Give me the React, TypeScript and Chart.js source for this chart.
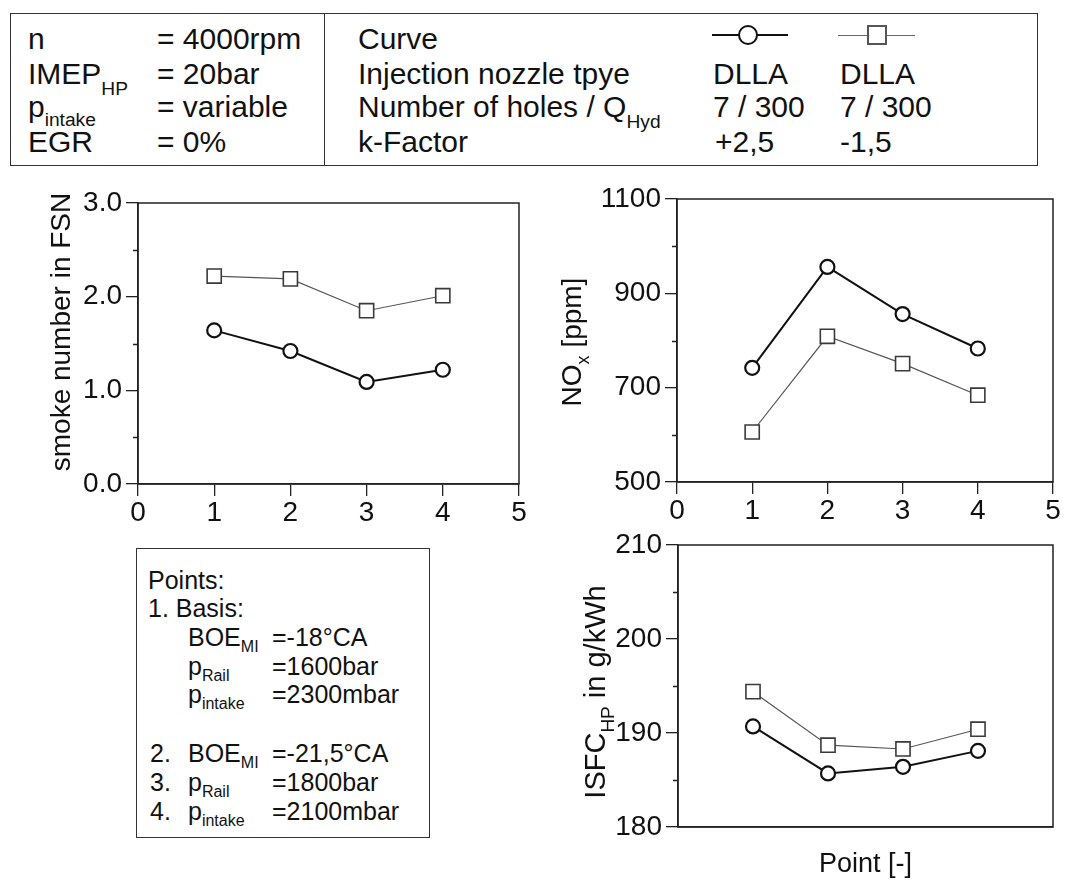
import React, { useEffect, useRef } from 'react';
import { Chart, registerables } from 'chart.js';

Chart.register(...registerables);

const FONT = '"Liberation Sans", Arial, Helvetica, sans-serif';

// ---- data ----
const pointNumbers = [1, 2, 3, 4];
const xTickValues = [0, 1, 2, 3, 4, 5];

const smokeRound = [1.64, 1.42, 1.09, 1.22];
const smokeSquare = [2.22, 2.19, 1.85, 2.01];
const smokeTicks = [0, 1, 2, 3];
const smokeMinor = [0.5, 1.5, 2.5];

const noxRound = [742, 956, 856, 783];
const noxSquare = [606, 809, 751, 684];
const noxTicks = [500, 700, 900, 1100];
const noxMinor = [600, 800, 1000];

const isfcRound = [190.7, 185.7, 186.4, 188.1];
const isfcSquare = [194.4, 188.7, 188.3, 190.4];
const isfcTicks = [180, 190, 200, 210];
const isfcMinor = [185, 195, 205];

const seriesLabels = ['DLLA 7/300 k=+2,5', 'DLLA 7/300 k=-1,5'];

type Part = { text: string; sub?: boolean };

interface Cfg {
  round: number[];
  square: number[];
  yMin: number;
  yMax: number;
  yTicks: number[];
  yMinor: number[];
  yDecimals: number;
  showX: boolean;
  xTitle?: string;
  pad: { top: number; right: number; bottom: number; left: number };
  yWidth: number;
  xHeight: number;
  title: Part[];
  titleX: number;
  titleY: number;
  titleSize: number;
}

function buildConfig(p: Cfg): any {
  const framePlugin = {
    id: 'frame',
    beforeDatasetsDraw(chart: any) {
      const { ctx, chartArea: a } = chart;
      ctx.save();
      ctx.strokeStyle = '#222';
      ctx.lineWidth = 1.5;
      ctx.strokeRect(a.left, a.top, a.right - a.left, a.bottom - a.top);
      const ys = chart.scales.y;
      ctx.lineWidth = 1.3;
      ctx.beginPath();
      for (const v of p.yMinor) {
        const py = Math.round(ys.getPixelForValue(v)) + 0.5;
        ctx.moveTo(a.left, py);
        ctx.lineTo(a.left - 5, py);
      }
      ctx.stroke();
      ctx.restore();
    },
  };
  const titlePlugin = {
    id: 'yTitleSub',
    afterDraw(chart: any) {
      const { ctx } = chart;
      const size = p.titleSize;
      const subSize = Math.round(size * 0.64);
      ctx.save();
      ctx.fillStyle = '#111';
      ctx.textBaseline = 'alphabetic';
      ctx.textAlign = 'left';
      let total = 0;
      const widths: number[] = [];
      for (const part of p.title) {
        ctx.font = `${part.sub ? subSize : size}px ${FONT}`;
        const w = ctx.measureText(part.text).width;
        widths.push(w);
        total += w;
      }
      ctx.translate(p.titleX, p.titleY);
      ctx.rotate(-Math.PI / 2);
      let pos = -total / 2;
      const base = size * 0.36;
      p.title.forEach((part, i) => {
        ctx.font = `${part.sub ? subSize : size}px ${FONT}`;
        ctx.fillText(part.text, pos, base + (part.sub ? size * 0.28 : 0));
        pos += widths[i];
      });
      ctx.restore();
    },
  };

  return {
    type: 'line',
    data: {
      datasets: [
        {
          label: seriesLabels[0],
          data: pointNumbers.map((x, i) => ({ x, y: p.round[i] })),
          borderColor: '#111',
          borderWidth: 2,
          pointStyle: 'circle',
          pointRadius: 7,
          pointBorderWidth: 2.2,
          pointBorderColor: '#111',
          pointBackgroundColor: '#fff',
          tension: 0,
        },
        {
          label: seriesLabels[1],
          data: pointNumbers.map((x, i) => ({ x, y: p.square[i] })),
          borderColor: '#555',
          borderWidth: 1.2,
          pointStyle: 'rect',
          pointRadius: 10,
          pointBorderWidth: 1.6,
          pointBorderColor: '#3a3a3a',
          pointBackgroundColor: '#fff',
          tension: 0,
        },
      ],
    },
    options: {
      animation: false,
      responsive: false,
      maintainAspectRatio: false,
      devicePixelRatio: 1,
      events: [],
      layout: { padding: p.pad },
      plugins: { legend: { display: false }, tooltip: { enabled: false } },
      scales: {
        x: {
          type: 'linear',
          min: 0,
          max: 5,
          afterBuildTicks: (s: any) => {
            s.ticks = xTickValues.map((v) => ({ value: v }));
          },
          ticks: {
            display: p.showX,
            color: '#111',
            font: { family: FONT, size: 28 },
            padding: 0,
            maxRotation: 0,
            autoSkip: false,
            callback: (v: any) => String(v),
          },
          grid: {
            display: true,
            drawOnChartArea: false,
            drawTicks: p.showX,
            tickLength: 12,
            color: '#222',
            lineWidth: 1.3,
          },
          border: { display: true, color: '#222', width: 1.5 },
          title: p.xTitle
            ? {
                display: true,
                text: p.xTitle,
                color: '#111',
                font: { family: FONT, size: 27 },
                padding: { top: 0, bottom: 0 },
              }
            : { display: false },
          afterFit: (s: any) => {
            s.height = p.xHeight;
          },
        },
        y: {
          type: 'linear',
          min: p.yMin,
          max: p.yMax,
          afterBuildTicks: (s: any) => {
            s.ticks = p.yTicks.map((v) => ({ value: v }));
          },
          ticks: {
            color: '#111',
            font: { family: FONT, size: 28 },
            padding: 4,
            autoSkip: false,
            callback: (v: any) => Number(v).toFixed(p.yDecimals),
          },
          grid: {
            display: true,
            drawOnChartArea: false,
            drawTicks: true,
            tickLength: 12,
            color: '#222',
            lineWidth: 1.3,
          },
          border: { display: true, color: '#222', width: 1.5 },
          afterFit: (s: any) => {
            s.width = p.yWidth;
          },
        },
      },
    },
    plugins: [framePlugin, titlePlugin],
  };
}

function ChartCanvas(props: { left: number; top: number; width: number; height: number; cfg: Cfg }) {
  const ref = useRef<HTMLCanvasElement>(null);
  useEffect(() => {
    if (!ref.current) return;
    const chart = new Chart(ref.current, buildConfig(props.cfg));
    return () => chart.destroy();
  }, []);
  return (
    <canvas
      ref={ref}
      width={props.width}
      height={props.height}
      style={{ position: 'absolute', left: props.left, top: props.top, width: props.width, height: props.height }}
    />
  );
}

function Sub({ children, drop = -0.55 }: { children: React.ReactNode; drop?: number }) {
  return <span style={{ fontSize: '0.64em', verticalAlign: `${drop}em` }}>{children}</span>;
}

function T({ x, y, size, children }: { x: number; y: number; size: number; children: React.ReactNode }) {
  return (
    <div
      style={{
        position: 'absolute',
        left: x,
        top: y - size * 0.555,
        fontSize: size,
        lineHeight: `${size * 1.133}px`,
        whiteSpace: 'nowrap',
      }}
    >
      {children}
    </div>
  );
}

const HS = 30; // header font size
const PS = 25; // points box font size

export default function App() {
  return (
    <div
      style={{
        position: 'absolute',
        left: 0,
        top: 0,
        width: 1069,
        height: 881,
        overflow: 'hidden',
        background: '#fff',
        fontFamily: FONT,
        color: '#111',
      }}
    >
      {/* header box */}
      <div
        style={{
          position: 'absolute',
          left: 10,
          top: 13,
          width: 1028,
          height: 153,
          border: '1.5px solid #333',
          boxSizing: 'border-box',
        }}
      />
      <div style={{ position: 'absolute', left: 324, top: 13, width: 0, height: 153, borderLeft: '1.5px solid #333' }} />

      <T x={28} y={39} size={HS}>n</T>
      <T x={28} y={74} size={HS}>IMEP<Sub>HP</Sub></T>
      <T x={28} y={107} size={HS}>p<Sub drop={-0.45}>intake</Sub></T>
      <T x={28} y={142} size={HS}>EGR</T>
      <T x={157} y={39} size={HS}>= 4000rpm</T>
      <T x={157} y={74} size={HS}>= 20bar</T>
      <T x={157} y={107} size={HS}>= variable</T>
      <T x={157} y={142} size={HS}>= 0%</T>

      <T x={358} y={39} size={HS}>Curve</T>
      <T x={358} y={74} size={HS}>Injection nozzle tpye</T>
      <T x={358} y={107} size={HS}>Number of holes / Q<Sub>Hyd</Sub></T>
      <T x={358} y={142} size={HS}>k-Factor</T>

      {/* legend symbols */}
      <div style={{ position: 'absolute', left: 712, top: 34, width: 76, height: 0, borderTop: '2px solid #111' }} />
      <div
        style={{
          position: 'absolute',
          left: 738,
          top: 25,
          width: 20,
          height: 20,
          border: '2.5px solid #111',
          borderRadius: '50%',
          background: '#fff',
          boxSizing: 'border-box',
        }}
      />
      <div style={{ position: 'absolute', left: 838, top: 35, width: 77, height: 0, borderTop: '1px solid #666' }} />
      <div
        style={{
          position: 'absolute',
          left: 867,
          top: 25,
          width: 20,
          height: 20,
          border: '2.5px solid #555',
          background: '#fff',
          boxSizing: 'border-box',
        }}
      />

      <T x={713} y={74} size={HS}>DLLA</T>
      <T x={840} y={74} size={HS}>DLLA</T>
      <T x={713} y={107} size={HS}>7 / 300</T>
      <T x={840} y={107} size={HS}>7 / 300</T>
      <T x={715} y={142} size={HS}>+2,5</T>
      <T x={840} y={142} size={HS}>-1,5</T>

      {/* charts */}
      <ChartCanvas
        left={0}
        top={170}
        width={545}
        height={360}
        cfg={{
          round: smokeRound,
          square: smokeSquare,
          yMin: 0,
          yMax: 3,
          yTicks: smokeTicks,
          yMinor: smokeMinor,
          yDecimals: 1,
          showX: true,
          pad: { top: 33, right: 26, bottom: 0, left: 0 },
          yWidth: 138,
          xHeight: 46,
          title: [{ text: 'smoke number in FSN' }],
          titleX: 60,
          titleY: 162,
          titleSize: 28,
        }}
      />
      <ChartCanvas
        left={540}
        top={170}
        width={529}
        height={360}
        cfg={{
          round: noxRound,
          square: noxSquare,
          yMin: 500,
          yMax: 1100,
          yTicks: noxTicks,
          yMinor: noxMinor,
          yDecimals: 0,
          showX: true,
          pad: { top: 29, right: 16, bottom: 2, left: 0 },
          yWidth: 137,
          xHeight: 46,
          title: [{ text: 'NO' }, { text: 'x', sub: true }, { text: ' [ppm]' }],
          titleX: 31,
          titleY: 172,
          titleSize: 28,
        }}
      />
      <ChartCanvas
        left={540}
        top={515}
        width={529}
        height={366}
        cfg={{
          round: isfcRound,
          square: isfcSquare,
          yMin: 180,
          yMax: 210,
          yTicks: isfcTicks,
          yMinor: isfcMinor,
          yDecimals: 0,
          showX: false,
          xTitle: 'Point [-]',
          pad: { top: 30, right: 16, bottom: 0, left: 0 },
          yWidth: 138,
          xHeight: 54,
          title: [{ text: 'ISFC' }, { text: 'HP', sub: true }, { text: ' in g/kWh' }],
          titleX: 55,
          titleY: 177,
          titleSize: 29,
        }}
      />

      {/* points box */}
      <div
        style={{
          position: 'absolute',
          left: 136,
          top: 548,
          width: 294,
          height: 290,
          border: '1.5px solid #333',
          boxSizing: 'border-box',
        }}
      />
      <T x={148} y={580} size={PS}>Points:</T>
      <T x={148} y={608} size={PS}>1. Basis:</T>
      <T x={188} y={637} size={PS}>BOE<Sub drop={-0.4}>MI</Sub></T>
      <T x={188} y={666} size={PS}>p<Sub drop={-0.4}>Rail</Sub></T>
      <T x={188} y={694} size={PS}>p<Sub drop={-0.4}>intake</Sub></T>
      <T x={272} y={637} size={PS}>=-18°CA</T>
      <T x={272} y={666} size={PS}>=1600bar</T>
      <T x={272} y={694} size={PS}>=2300mbar</T>
      <T x={150} y={753} size={PS}>2.</T>
      <T x={150} y={782} size={PS}>3.</T>
      <T x={150} y={811} size={PS}>4.</T>
      <T x={188} y={753} size={PS}>BOE<Sub drop={-0.4}>MI</Sub></T>
      <T x={188} y={782} size={PS}>p<Sub drop={-0.4}>Rail</Sub></T>
      <T x={188} y={811} size={PS}>p<Sub drop={-0.4}>intake</Sub></T>
      <T x={272} y={753} size={PS}>=-21,5°CA</T>
      <T x={272} y={782} size={PS}>=1800bar</T>
      <T x={272} y={811} size={PS}>=2100mbar</T>
    </div>
  );
}
